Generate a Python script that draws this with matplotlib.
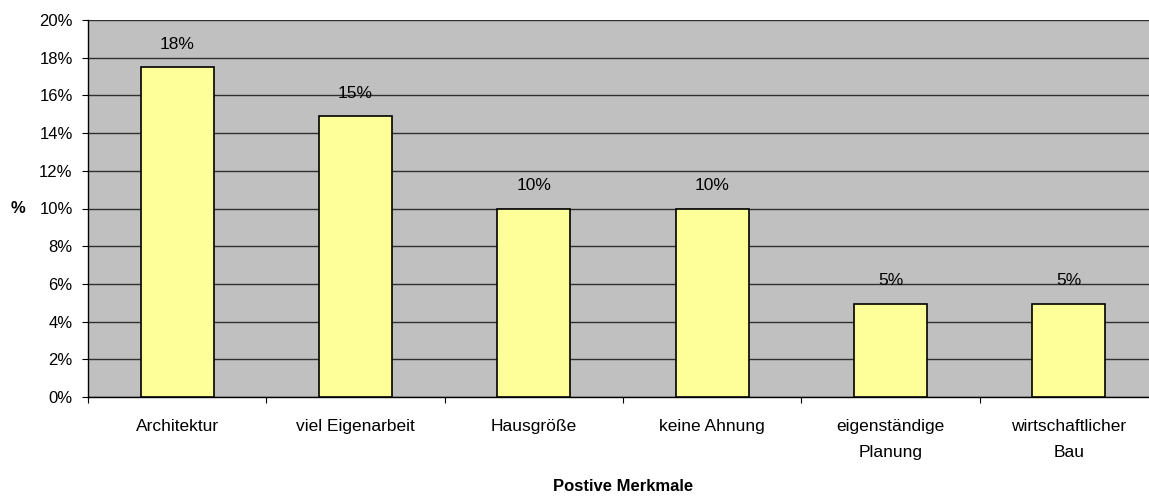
import matplotlib
matplotlib.use('Agg')
import matplotlib.pyplot as plt
import numpy as np

plt.rcParams['font.family'] = ['Liberation Sans', 'DejaVu Sans']

categories = ["Architektur", "viel Eigenarbeit", "Hausgröße", "keine Ahnung",
              "eigenständige\nPlanung", "wirtschaftlicher\nBau"]
values = [17.5, 14.9, 10.0, 10.0, 4.95, 4.95]
labels = ["18%", "15%", "10%", "10%", "5%", "5%"]
yticks = [0, 2, 4, 6, 8, 10, 12, 14, 16, 18, 20]

fig = plt.figure(figsize=(11.49, 4.97), dpi=100)
ax = fig.add_axes([88/1149, 1 - 397/497, (1158 - 88)/1149, 377/497])
ax.set_facecolor('#C0C0C0')

x = np.arange(len(categories))
ax.bar(x, values, width=0.41, color='#FFFF99', edgecolor='black', linewidth=1.2, zorder=3)
for xi, v, lab in zip(x, values, labels):
    ax.annotate(lab, (xi, v), xytext=(0, 11), textcoords='offset points',
                ha='center', va='bottom', fontsize=12.5)

ax.set_ylim(0, 20)
ax.set_xlim(-0.5, len(categories) - 0.5)
ax.set_yticks(yticks)
ax.set_yticklabels([f"{t}%" for t in yticks], fontsize=12)
ax.yaxis.grid(True, color='#303030', linewidth=1, zorder=0)
ax.set_axisbelow(True)

# category boundaries as major ticks, names on minor ticks
ax.set_xticks(np.arange(len(categories) + 1) - 0.5)
ax.set_xticklabels([])
ax.set_xticks(x, minor=True)
ax.set_xticklabels(categories, minor=True, fontsize=12.5, linespacing=1.95, va='top')
ax.tick_params(axis='x', which='minor', length=0, pad=15.5)
ax.tick_params(axis='x', which='major', length=4, direction='out')
ax.tick_params(axis='y', length=4, direction='out', pad=7)

for s in ['top', 'right']:
    ax.spines[s].set_visible(False)
for s in ['left', 'bottom']:
    ax.spines[s].set_linewidth(1)
    ax.spines[s].set_color('black')

ax.set_xlabel("Postive Merkmale", fontsize=12, fontweight='bold', labelpad=14)
ax.set_ylabel("%", fontsize=12, fontweight='bold', rotation=0, labelpad=15, va='center')

fig.savefig('out.png', dpi=100)
